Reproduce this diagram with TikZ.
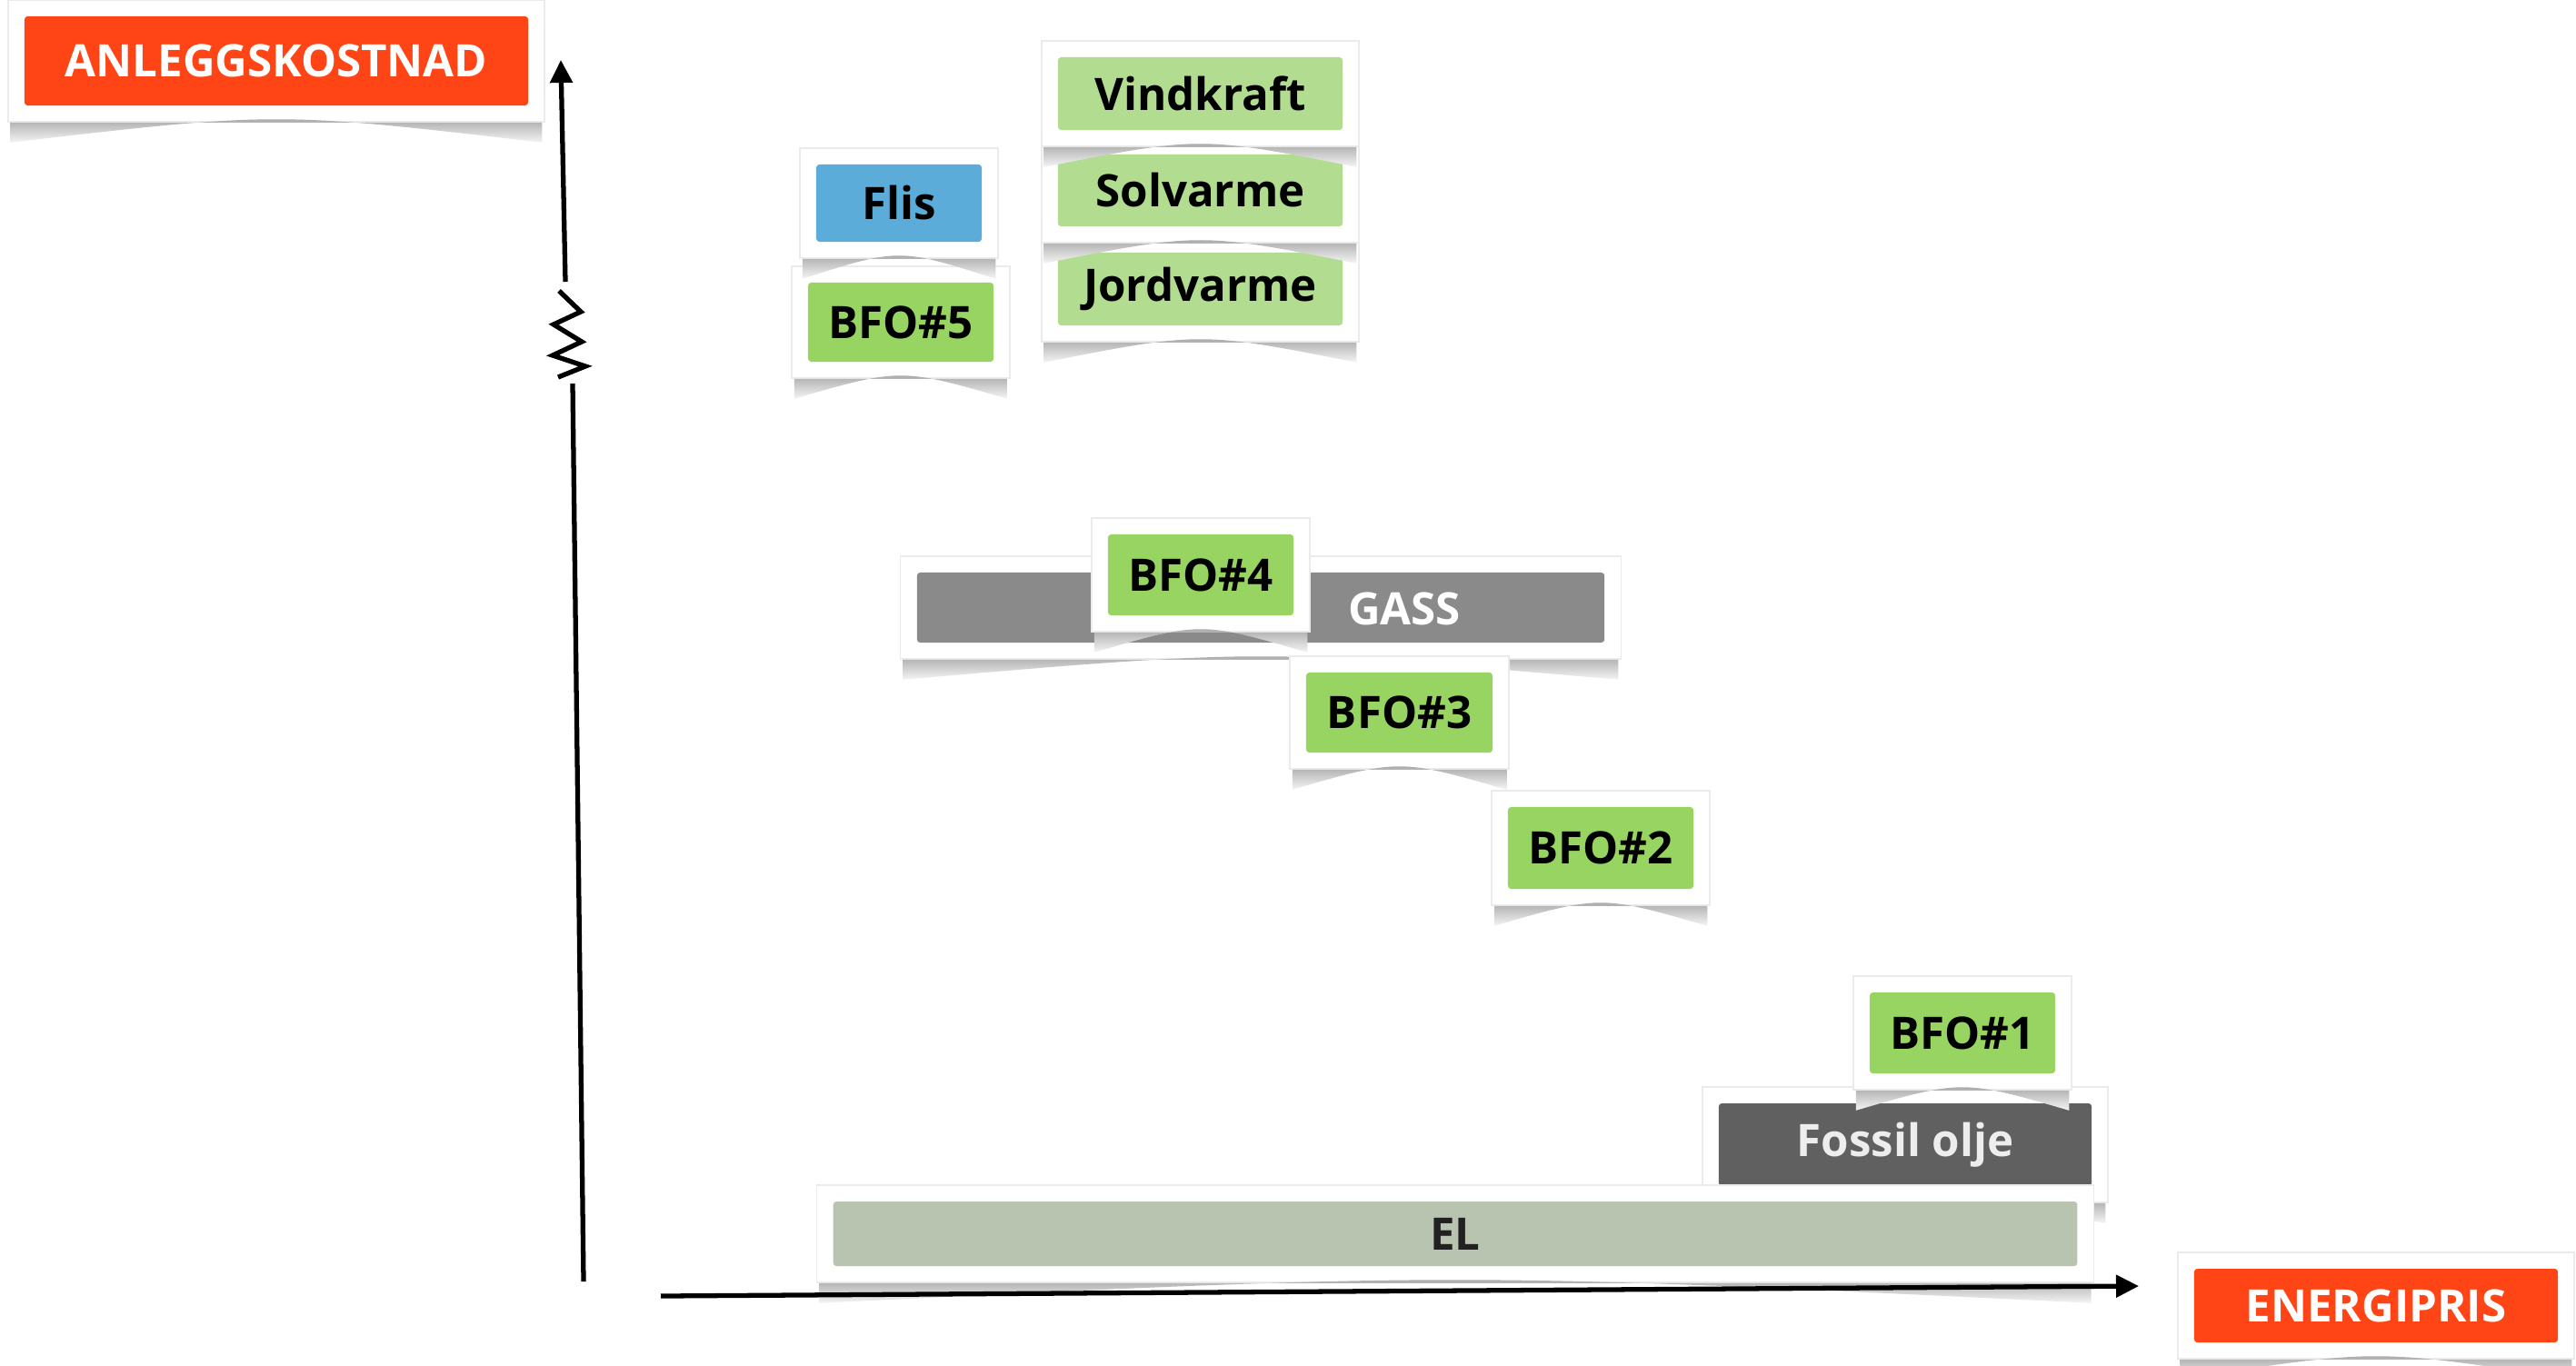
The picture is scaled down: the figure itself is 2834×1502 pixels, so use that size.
\documentclass[tikz,border=0pt]{standalone}
\usepackage{fontspec}
\setmainfont{Open Sans}
\usetikzlibrary{arrows.meta, calc}

\definecolor{kostrod}{RGB}{255,68,21}
\definecolor{flisblaa}{RGB}{91,172,216}
\definecolor{bfogronn}{RGB}{152,212,98}
\definecolor{fornygronn}{RGB}{178,221,145}
\definecolor{gassgraa}{RGB}{138,138,138}
\definecolor{oljegraa}{RGB}{96,96,96}
\definecolor{elgraa}{RGB}{185,196,176}

\tikzset{
  card/.style={draw=black!8, fill=white, line width=0.4pt, inner sep=0pt,
    font=\fontsize{14}{16}\selectfont\bfseries,
    path picture={\fill[#1, rounded corners=1pt]
      ([shift={(0.18cm,0.18cm)}]path picture bounding box.south west) rectangle
      ([shift={(-0.18cm,-0.18cm)}]path picture bounding box.north east);}},
  axisline/.style={line width=1.5pt},
  axisarrow/.style={axisline, -{Triangle[length=0.25cm,width=0.24cm]}},
}

% curved drop shadow under a card
\newcommand\cardshade[1]{%
  \shade[top color=black!42, bottom color=black!4]
    ([xshift=1pt]#1.south west) -- ([xshift=1pt,yshift=-0.22cm]#1.south west)
    .. controls ([yshift=0.12cm]#1.south) .. ([xshift=-1pt,yshift=-0.22cm]#1.south east)
    -- ([xshift=-1pt]#1.south east) -- cycle;}

\begin{document}
\begin{tikzpicture}[x=0.01cm, y=-0.01cm]
    \useasboundingbox (0,0) rectangle (2834,1502);

    % axis titles
    \node[card=kostrod, text=white, minimum width=5.90cm, minimum height=1.34cm] (anlegg) at (304,67) {ANLEGGSKOSTNAD};
    \cardshade{anlegg}
    \node[card=kostrod, text=white, minimum width=4.36cm, minimum height=1.17cm] (energi) at (2614,1436.5) {ENERGIPRIS};
    \cardshade{energi}

    % top group
    \node[card=bfogronn, minimum width=2.40cm, minimum height=1.23cm] (bfo5) at (991,354.5) {BFO\#5};
    \cardshade{bfo5}
    \node[card=flisblaa, minimum width=2.18cm, minimum height=1.21cm] (flis) at (989,223.5) {Flis};
    \cardshade{flis}
    \node[card=fornygronn, minimum width=3.49cm, minimum height=1.16cm] (jord) at (1320.5,318) {Jordvarme};
    \cardshade{jord}
    \node[card=fornygronn, minimum width=3.49cm, minimum height=1.15cm] (sol) at (1320.5,209.5) {Solvarme};
    \cardshade{sol}
    \node[card=fornygronn, minimum width=3.49cm, minimum height=1.16cm] (vind) at (1320.5,103) {Vindkraft};
    \cardshade{vind}

    % middle group
    \node[card=gassgraa, minimum width=7.92cm, minimum height=1.13cm] (gass) at (1387,668.5) {};
    \cardshade{gass}
    \node[font=\fontsize{14}{16}\selectfont\bfseries, text=white] (gasstekst) at (1545,670) {GASS};
    \node[card=bfogronn, minimum width=2.40cm, minimum height=1.25cm] (bfo4) at (1321,632.5) {BFO\#4};
    \cardshade{bfo4}
    \node[card=bfogronn, minimum width=2.41cm, minimum height=1.24cm] (bfo3) at (1539.5,784) {BFO\#3};
    \cardshade{bfo3}
    \node[card=bfogronn, minimum width=2.40cm, minimum height=1.26cm] (bfo2) at (1761,933) {BFO\#2};
    \cardshade{bfo2}

    % bottom group
    \node[card=oljegraa, text=black!7, minimum width=4.46cm, minimum height=1.27cm] (olje) at (2096,1259.5) {Fossil olje};
    \cardshade{olje}
    \node[card=elgraa, text=black!87, minimum width=14.04cm, minimum height=1.07cm] (el) at (1601,1357.5) {EL};
    \cardshade{el}
    \node[card=bfogronn, minimum width=2.40cm, minimum height=1.25cm] (bfo1) at (2159,1136.5) {BFO\#1};
    \cardshade{bfo1}

    % axes
    \coordinate (ybunn) at (642,1410);
    \coordinate (ybrudd) at (630,422);
    \coordinate (yfra) at (622,310);
    \coordinate (ytopp) at (617,66);
    \coordinate (xfra) at (727,1426);
    \coordinate (xende) at (2353,1415);
    \draw[axisline] (ybunn) -- (ybrudd);
    \draw[axisline] (614,415) -- (644,403) -- (608,391) -- (640,376) -- (609,357) -- (639,343) -- (615,320);
    \draw[axisarrow] (yfra) -- (ytopp);
    \draw[axisarrow] (xfra) -- (xende);
\end{tikzpicture}
\end{document}
